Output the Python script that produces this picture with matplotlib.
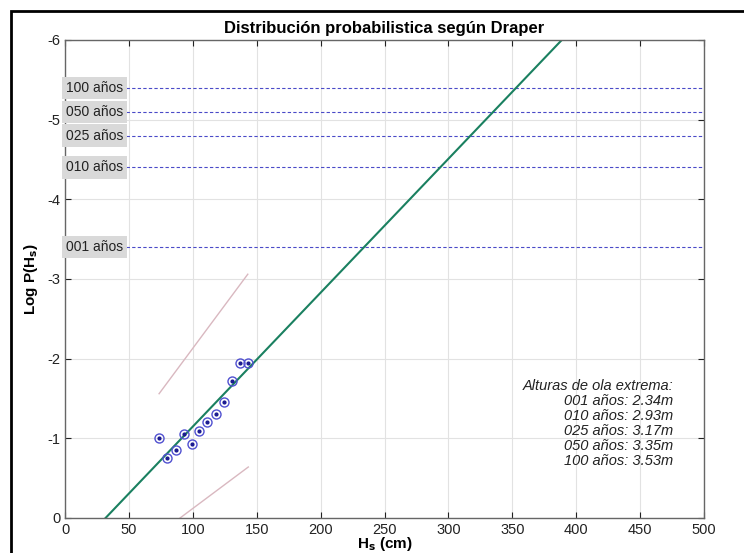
import matplotlib
matplotlib.use("Agg")
import matplotlib.pyplot as plt
from matplotlib.patches import Rectangle

plt.rcParams['font.family'] = ['Liberation Sans', 'DejaVu Sans']

# Observed data (H in cm, Log P)
obs_h = [73.6, 80.0, 86.9, 92.9, 99.1, 105.1, 111.4, 117.9, 124.2, 130.4, 136.7, 143.0]
obs_logp = [-1.01, -0.75, -0.85, -1.05, -0.93, -1.09, -1.20, -1.30, -1.46, -1.72, -1.95, -1.95]

# Fitted Draper line endpoints
fit_h = [31.7, 388.7]
fit_logp = [0.0, -6.0]

# Confidence band lines
upper_h = [73.6, 143.0]
upper_logp = [-1.56, -3.06]
lower_h = [90.0, 143.4]
lower_logp = [0.0, -0.64]

# Return periods
periods = ['001 años', '010 años', '025 años', '050 años', '100 años']
period_logp = [-3.4, -4.4, -4.8, -5.1, -5.4]
heights_m = [2.34, 2.93, 3.17, 3.35, 3.53]

fig = plt.figure(figsize=(7.44, 5.53), dpi=100)
ax = fig.add_axes([0.0874, 0.0633, 0.8589, 0.8644])

ax.set_xlim(0, 500)
ax.set_ylim(0, -6)
ax.set_xticks(range(0, 501, 50))
ax.set_yticks([0, -1, -2, -3, -4, -5, -6])
ax.set_yticklabels(['0', '-1', '-2', '-3', '-4', '-5', '-6'])
ax.grid(True, color='#e2e2e2', linewidth=0.8)
ax.set_axisbelow(True)
ax.tick_params(direction='in', top=True, right=True, labelsize=10.5,
               colors='#222222', length=4)
for s in ax.spines.values():
    s.set_color('#666666')
    s.set_linewidth(1.0)

for lp in period_logp:
    ax.axhline(lp, color='#4a4ac8', linestyle=(0, (3, 2)), linewidth=0.8)
for name, lp in zip(periods, period_logp):
    ax.text(0.6, lp, name, ha='left', va='center', fontsize=10, color='#222222',
            bbox=dict(boxstyle='square,pad=0.3', facecolor='#d9d9d9', edgecolor='none'),
            clip_on=False, zorder=5)

ax.plot(upper_h, upper_logp, color='#d9b8c0', linewidth=1.0)
ax.plot(lower_h, lower_logp, color='#d9b8c0', linewidth=1.0)
ax.plot(fit_h, fit_logp, color='#1a8060', linewidth=1.5)
ax.plot(obs_h, obs_logp, linestyle='none', marker='o', markersize=6.5,
        markerfacecolor='none', markeredgecolor='#5050d0', markeredgewidth=1.0)
ax.plot(obs_h, obs_logp, linestyle='none', marker='o', markersize=2,
        color='#1a1a90')

ax.set_title('Distribución probabilistica según Draper', fontsize=12,
             fontweight='bold', pad=5)
ax.set_xlabel('H$_\\mathbf{s}$ (cm)', fontsize=11, fontweight='bold', labelpad=-1)
ax.set_ylabel('Log P(H$_\\mathbf{s}$)', fontsize=11, fontweight='bold', labelpad=5)

lines = ['Alturas de ola extrema:'] + [f'{p}: {h:.2f}m' for p, h in zip(periods, heights_m)]
y0 = -1.66
for i, t in enumerate(lines):
    ax.text(476, y0 + 0.19 * i, t, ha='right', va='center', fontsize=10.5,
            style='italic', color='#222222')

fig.add_artist(Rectangle((11 / 744, -0.2), 2.0, 1.2 - 11 / 553,
                         transform=fig.transFigure, fill=False,
                         edgecolor='black', linewidth=2))
fig.savefig('out.png', dpi=100)
